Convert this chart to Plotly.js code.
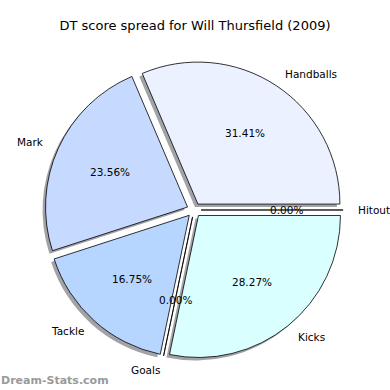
<!DOCTYPE html>
<html>
<head>
<meta charset="utf-8">
<script src="https://cdn.plot.ly/plotly-3.0.1.min.js"></script>
<style>html,body{margin:0;padding:0;background:#fff;} #chart{width:390px;height:390px;}</style>
</head>
<body>
<div id="chart"></div>
<script>
var categories = ["Handballs", "Mark", "Tackle", "Goals", "Kicks", "Hitout"];
var values = [60, 45, 32, 0, 54, 0];
var colors = ["#EBF1FF", "#C6DAFF", "#B6D5FF", "#B6D5FF", "#D9FFFF", "#EBF1FF"];

var W = 390, H = 390;
var PULL = 0.05;
var centerPx = [194, 210], radiusPx = 142;

var total = values.reduce(function(a, b){ return a + b; }, 0);
var pctText = values.map(function(v){ return (v / total * 100).toFixed(2) + "%"; });
var drawVals = values.map(function(v){ return v > 0 ? v : total * 1e-6; });

var half = radiusPx * (1 + PULL);
function dom(dxPx, dyPx){
  return {x: [(centerPx[0] - half + dxPx) / W, (centerPx[0] + half + dxPx) / W],
          y: [1 - (centerPx[1] + half + dyPx) / H, 1 - (centerPx[1] - half + dyPx) / H]};
}
// first slice begins at 3 o'clock, counterclockwise (Plotly puts the end of the first slice at 'rotation')
var rotation = 90 - values[0] / total * 360;

var common = {
  type: "pie", labels: categories, values: drawVals, sort: false,
  direction: "counterclockwise", rotation: rotation, pull: PULL,
  hoverinfo: "skip", textinfo: "none"
};
var shadow = Object.assign({}, common, {
  domain: dom(-3, 3),
  marker: {colors: categories.map(function(){ return "#a2a3a6"; }), line: {width: 0}}
});
var main = Object.assign({}, common, {
  domain: dom(0, 0),
  marker: {colors: colors, line: {color: "#000", width: 0.8}}
});

// text placed like the original: percentages at 0.6 r, labels at 1.1 r from each pulled slice centre
var annotations = [];
var cum = 0;
values.forEach(function(v, i){
  var mid = (cum + v / 2) / total * 2 * Math.PI;
  cum += v;
  var c = Math.cos(mid), s = Math.sin(mid);
  var ox = centerPx[0] + PULL * radiusPx * c, oy = centerPx[1] - PULL * radiusPx * s;
  annotations.push({
    text: pctText[i], xref: "paper", yref: "paper", showarrow: false,
    x: (ox + 0.6 * radiusPx * c) / W, y: 1 - (oy - 0.6 * radiusPx * s) / H,
    xanchor: "center", yanchor: "middle", borderpad: 0,
    font: {family: "DejaVu Sans", size: 10.5, color: "#000"}
  });
  annotations.push({
    text: categories[i], xref: "paper", yref: "paper", showarrow: false,
    x: (ox + 1.1 * radiusPx * c) / W, y: 1 - (oy - 1.1 * radiusPx * s) / H,
    xanchor: c > 0 ? "left" : "right", yanchor: "middle", borderpad: 0,
    font: {family: "DejaVu Sans", size: 10.5, color: "#000"}
  });
});
annotations.push({text: "Dream-Stats.com", xref: "paper", yref: "paper", x: 0, y: 1 - 380 / H,
  xanchor: "left", yanchor: "middle", showarrow: false, borderpad: 0,
  font: {family: "DejaVu Sans", size: 11, color: "#9a9a9a", weight: "bold"}});

var layout = {
  width: W, height: H, margin: {l: 0, r: 0, t: 0, b: 0},
  paper_bgcolor: "#fff", showlegend: false,
  title: {text: "DT score spread for Will Thursfield (2009)", x: 0.5, xanchor: "center", y: 1 - 25 / H, yanchor: "middle",
    font: {family: "DejaVu Sans", size: 13, color: "#000"}},
  annotations: annotations
};

Plotly.newPlot("chart", [shadow, main], layout, {staticPlot: true});
</script>
</body>
</html>
